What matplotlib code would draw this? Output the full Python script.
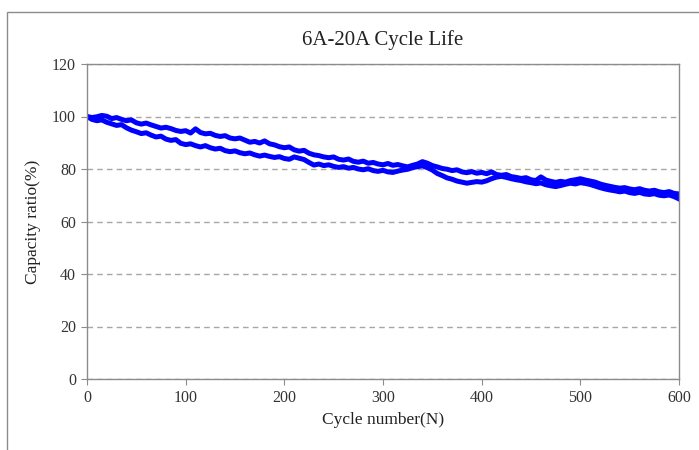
import numpy as np
import matplotlib
matplotlib.use("Agg")
import matplotlib.pyplot as plt
from matplotlib.patches import Rectangle

plt.rcParams["font.family"] = ["Liberation Serif", "DejaVu Serif"]

# cycle numbers (every 5 cycles)
cycles = np.arange(0, 601, 5)

# upper track
cap_a = [100.0, 99.6, 99.9, 100.4, 100.1, 99.2, 99.6, 98.9, 98.4, 98.7,
         97.6, 97.1, 97.5, 96.8, 96.2, 95.6, 95.9, 95.4, 94.7, 94.3,
         94.6, 93.7, 95.3, 93.9, 93.4, 93.6, 92.8, 92.4, 92.7, 91.8,
         91.5, 91.8, 91.0, 90.2, 90.5, 89.9, 90.7, 89.6, 89.2, 88.5,
         88.1, 88.4, 87.3, 86.8, 87.1, 86.0, 85.4, 85.1, 84.6, 84.3,
         84.6, 83.7, 83.4, 83.8, 82.9, 82.6, 83.0, 82.2, 82.5, 81.9,
         81.6, 82.1, 81.4, 81.7, 81.2, 80.8, 81.4, 81.9, 82.8, 82.2,
         81.3, 80.8, 80.2, 79.9, 79.4, 79.7, 78.9, 78.6, 79.0, 78.4,
         78.7, 78.2, 78.9, 77.9, 77.6, 77.9, 77.1, 76.8, 76.4, 76.7,
         75.9, 75.6, 77.0, 75.8, 75.3, 74.9, 75.3, 75.0, 75.6, 75.9,
         76.3, 75.8, 75.4, 75.0, 74.3, 73.8, 73.4, 73.0, 72.7, 72.9,
         72.4, 72.1, 72.5, 71.9, 71.6, 71.9, 71.3, 71.0, 71.4, 70.7,
         70.5]

# lower track
cap_b = [100.0, 98.9, 98.4, 98.7, 97.8, 97.2, 96.6, 96.9, 95.7, 94.8,
         94.2, 93.5, 93.8, 92.9, 92.2, 92.5, 91.4, 90.9, 91.2, 89.8,
         89.3, 89.6, 88.9, 88.4, 88.9, 88.1, 87.6, 87.9, 87.0, 86.6,
         86.9, 86.2, 85.8, 86.1, 85.4, 84.9, 85.3, 84.8, 84.4, 84.7,
         84.0, 83.7, 84.6, 84.1, 83.6, 82.5, 81.5, 81.9, 81.3, 81.6,
         81.0, 80.6, 80.9, 80.3, 80.6, 80.0, 79.7, 80.1, 79.4, 79.1,
         79.5, 78.9, 78.7, 79.2, 79.6, 79.9, 80.5, 80.9, 81.2, 80.5,
         79.6, 78.3, 77.5, 76.6, 76.1, 75.4, 75.0, 74.6, 74.9, 75.2,
         75.0, 75.5, 76.3, 76.9, 77.2, 76.8, 76.3, 75.9, 75.6, 75.1,
         74.8, 74.4, 74.7, 74.0, 73.6, 73.3, 73.7, 74.2, 74.6, 74.3,
         74.8, 74.5, 74.1, 73.5, 72.9, 72.4, 72.0, 71.7, 71.3, 71.6,
         71.0, 70.7, 71.1, 70.5, 70.3, 70.6, 70.0, 69.8, 70.1, 69.5,
         68.6]

x_ticks = [0, 100, 200, 300, 400, 500, 600]
y_ticks = [0, 20, 40, 60, 80, 100, 120]

fig = plt.figure(figsize=(6.99, 4.5), dpi=100)
ax = fig.add_axes([87 / 699, 1 - 379 / 450, 592 / 699, 315 / 450])

# outer chart frame (only left and top edges are in view)
fig.patches.append(Rectangle((7 / 699, -0.1), 1.2, 1.1 - 12 / 450,
                             transform=fig.transFigure, fill=False,
                             edgecolor="#8c8c8c", linewidth=1.0))

for cap in (cap_a, cap_b):
    ax.plot(cycles, cap, color="#0000ff", linewidth=3.6, solid_joinstyle="round")

ax.set_xlim(0, 600)
ax.set_ylim(0, 120)
ax.set_xticks(x_ticks)
ax.set_yticks(y_ticks)
ax.grid(axis="y", linestyle=(0, (4, 3)), color="#a6a6a6", linewidth=1.0)
ax.set_axisbelow(True)

for s in ax.spines.values():
    s.set_color("#8c8c8c")
    s.set_linewidth(1.0)

ax.tick_params(direction="out", length=4, color="#8c8c8c",
               labelsize=11.5, labelcolor="#333333", pad=4)

ax.set_title("6A-20A Cycle Life", fontsize=15, color="#222222", pad=14)
ax.set_xlabel("Cycle number(N)", fontsize=12.5, color="#222222", labelpad=4)
ax.set_ylabel("Capacity ratio(%)", fontsize=12.5, color="#222222", labelpad=8)

fig.savefig("out.png", dpi=100)
